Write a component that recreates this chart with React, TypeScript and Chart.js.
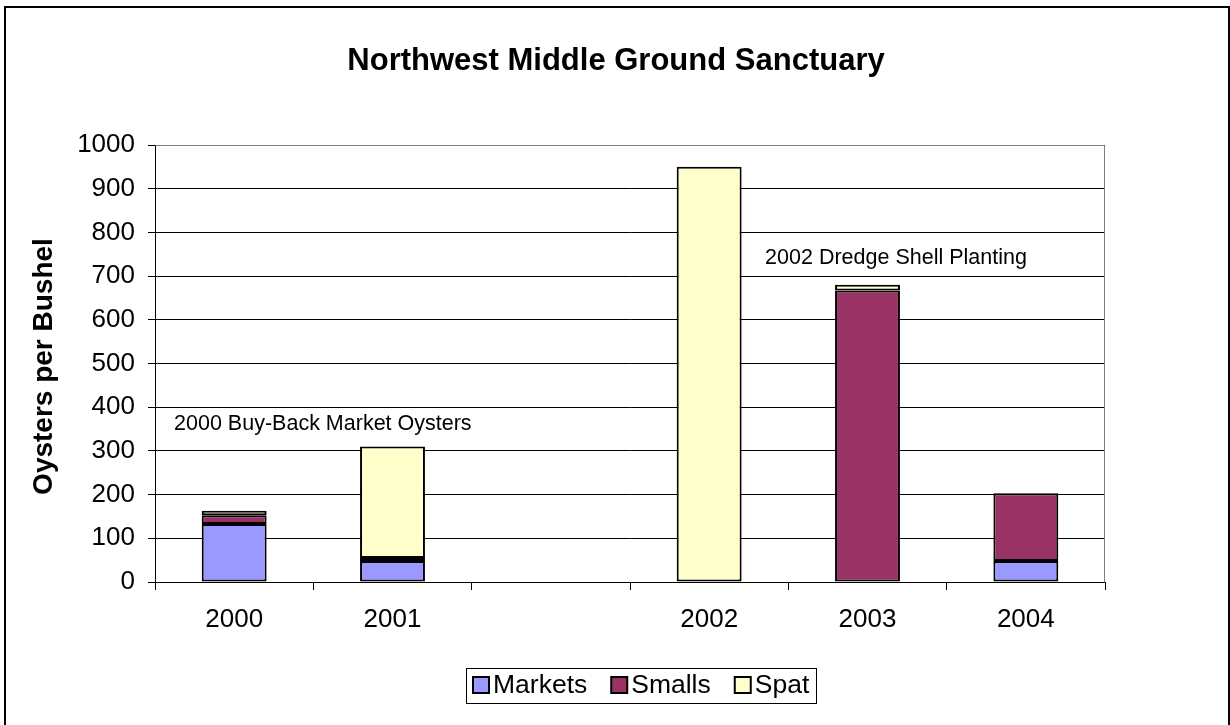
import React, { useEffect, useRef } from "react";
import { Chart, registerables } from "chart.js";

Chart.register(...registerables);

// Sampling years (the empty slot separates the two sampling periods)
const categories = ["2000", "2001", "", "2002", "2003", "2004"];

// Oysters per bushel by size class
const markets = [133, 48, null, 0, 0, 48];
const smalls = [20, 7, null, 0, 667, 155];
const spat = [10, 255, null, 950, 13, 0];

const seriesNames = ["Markets", "Smalls", "Spat"];
const seriesColors = ["#9999FF", "#993366", "#FFFFCC"];

const yMin = 0;
const yMax = 1000;
const yStep = 100;

const titleText = "Northwest Middle Ground Sanctuary";
const yTitleText = "Oysters per Bushel";

// Event notes: text, category position (fractional index) and value level
const noteTexts = ["2000 Buy-Back Market Oysters", "2002 Dredge Shell Planting"];
const notePositions = [0.56, 4.18];
const noteLevels = [362, 742];

const FONT = "Arial, 'Liberation Sans', sans-serif";

const decorations = {
  id: "decorations",
  afterDraw(chart: any) {
    const { ctx, chartArea, scales } = chart;
    const W = chart.width;
    const H = chart.height;
    ctx.save();

    // outer frame
    ctx.strokeStyle = "#000";
    ctx.lineWidth = 2;
    ctx.beginPath();
    ctx.moveTo(5, H + 10);
    ctx.lineTo(5, 7);
    ctx.lineTo(W - 1, 7);
    ctx.lineTo(W - 1, H + 10);
    ctx.stroke();

    // plot area border (top and right)
    ctx.strokeStyle = "#808080";
    ctx.lineWidth = 1;
    ctx.beginPath();
    ctx.moveTo(Math.round(chartArea.left) + 0.5, Math.round(chartArea.top) + 0.5);
    ctx.lineTo(Math.round(chartArea.right) - 0.5, Math.round(chartArea.top) + 0.5);
    ctx.lineTo(Math.round(chartArea.right) - 0.5, Math.round(chartArea.bottom) + 0.5);
    ctx.stroke();

    // title
    ctx.fillStyle = "#000";
    ctx.font = `bold 31px ${FONT}`;
    ctx.textAlign = "center";
    ctx.textBaseline = "middle";
    ctx.fillText(titleText, 616, 61);

    // y axis title
    ctx.save();
    ctx.translate(44, (chartArea.top + chartArea.bottom) / 2 + 3);
    ctx.rotate(-Math.PI / 2);
    ctx.font = `bold 28px ${FONT}`;
    ctx.fillText(yTitleText, 0, 0);
    ctx.restore();

    // notes
    ctx.font = `21.5px ${FONT}`;
    noteTexts.forEach((t, i) => {
      const x = scales.x.getPixelForValue(notePositions[i]);
      const y = scales.y.getPixelForValue(noteLevels[i]);
      ctx.fillText(t, x, y);
    });

    // legend
    ctx.font = `26.5px ${FONT}`;
    const box = 16;
    const gapBoxText = 4;
    const gapItems = 24;
    const pad = 7;
    const widths = seriesNames.map((n) => ctx.measureText(n).width);
    const total =
      widths.reduce((a, b) => a + b, 0) +
      seriesNames.length * (box + gapBoxText) +
      (seriesNames.length - 1) * gapItems +
      pad * 2;
    const cx = 641;
    const cy = 685;
    const h = 35;
    const lx = Math.round(cx - total / 2);
    ctx.strokeStyle = "#000";
    ctx.lineWidth = 1;
    ctx.strokeRect(lx + 0.5, Math.round(cy - h / 2) + 0.5, Math.round(total), h);
    let x = lx + pad;
    ctx.textAlign = "left";
    seriesNames.forEach((n, i) => {
      ctx.fillStyle = seriesColors[i];
      ctx.fillRect(x, cy - box / 2, box, box);
      ctx.strokeStyle = "#000";
      ctx.lineWidth = 2;
      ctx.strokeRect(x, cy - box / 2, box, box);
      x += box + gapBoxText;
      ctx.fillStyle = "#000";
      ctx.fillText(n, x, cy + 1);
      x += widths[i] + gapItems;
    });

    ctx.restore();
  },
};

export default function App() {
  const ref = useRef<HTMLCanvasElement>(null);

  useEffect(() => {
    if (!ref.current) return;
    const series = [markets, smalls, spat];
    const chart = new Chart(ref.current, {
      type: "bar",
      data: {
        labels: categories,
        datasets: series.map((d, i) => ({
          label: seriesNames[i],
          data: d,
          backgroundColor: seriesColors[i],
          borderColor: "#000",
          borderWidth: 2,
          borderSkipped: false,
          categoryPercentage: 1,
          barPercentage: 0.41,
        })),
      },
      options: {
        responsive: false,
        animation: false,
        devicePixelRatio: 1,
        layout: { padding: { top: 145, right: 125, bottom: 0, left: 0 } },
        plugins: {
          legend: { display: false },
          title: { display: false },
          tooltip: { enabled: false },
        },
        scales: {
          x: {
            stacked: true,
            afterFit(scale: any) {
              scale.height = 143;
            },
            grid: {
              offset: true,
              drawOnChartArea: false,
              drawTicks: true,
              tickLength: 8,
              color: "#000",
            },
            border: { display: true, color: "#000", width: 1 },
            ticks: {
              color: "#000",
              font: { family: FONT, size: 26 },
              padding: 14,
              maxRotation: 0,
              autoSkip: false,
            },
          },
          y: {
            stacked: true,
            min: yMin,
            max: yMax,
            afterFit(scale: any) {
              scale.width = 155;
            },
            grid: {
              color: "#000",
              lineWidth: 1,
              drawTicks: true,
              tickLength: 7,
            },
            border: { display: true, color: "#000", width: 1 },
            ticks: {
              stepSize: yStep,
              color: "#000",
              font: { family: FONT, size: 26 },
              padding: 13,
              callback: (v: any) => String(v),
            },
          },
        },
      },
      plugins: [decorations],
    });
    return () => chart.destroy();
  }, []);

  return (
    <div style={{ position: "fixed", left: 0, top: 0, width: 1230, height: 725, background: "#fff" }}>
      <canvas ref={ref} width={1230} height={725} style={{ display: "block" }} />
    </div>
  );
}
